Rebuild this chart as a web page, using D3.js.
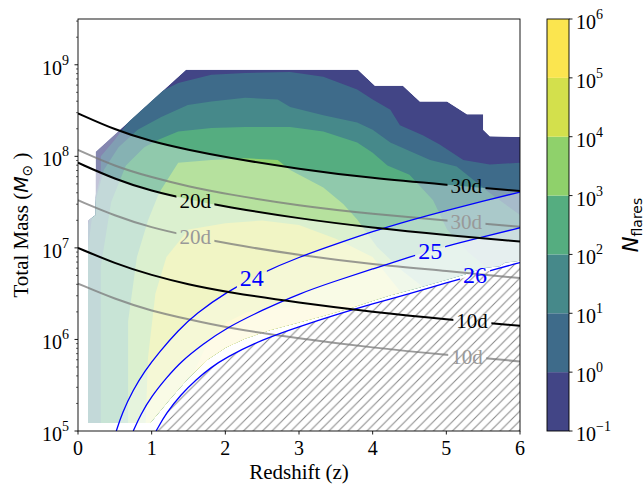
<!DOCTYPE html>
<html>
<head>
<meta charset="utf-8">
<script src="https://cdn.jsdelivr.net/npm/d3@7"></script>
<style>
body { margin: 0; background: #fff; }
svg { display: block; font-family: "Liberation Serif", "Times New Roman", serif; }
</style>
</head>
<body>
<svg id="chart" width="644" height="485"></svg>
<script>
// ---- data (z, log10 M) ----
var levelValues = [1e-1, 1e0, 1e1, 1e2, 1e3, 1e4, 1e5, 1e6];
var levelColors = ['#424586', '#3e6b8a', '#46898a', '#55ad80', '#8fd16b', '#d3e04c', '#fbe54f'];

// outer edge of the filled contours (N >= 0.1)
var outerTop = [[0.136,5.087],[0.136,7.30],[0.24,7.36],[0.24,8.05],[1.466,8.945],[3.80,8.945],[4.03,8.77],[4.41,8.77],
  [4.64,8.60],[5.01,8.60],[5.28,8.46],[5.50,8.46],[5.50,8.29],[5.59,8.22],[6.0,8.21]];
var cutoff = [[6.0,6.86],[5.8,6.84],[5.72,6.80],[5.5,6.78],[5.25,6.71],[4.91,6.63],[4.6,6.56],[4.23,6.48],[3.95,6.41],
  [3.69,6.34],[3.3,6.25],[2.88,6.16],[2.6,6.1],[2.27,6.01],[2.0,5.91],[1.76,5.78],[1.5,5.58],[1.25,5.35],[0.98,5.087]];

// upper edges of the inner levels (N >= 1, 10, 1e2, 1e3, 1e4, 1e5)
var level2 = [[0.136,4.9],[0.136,7.25],[0.31,7.8],[0.31,8.0],[0.50,8.18],[0.91,8.62],[1.36,8.80],[1.81,8.89],[2.27,8.91],
  [2.88,8.92],[3.33,8.87],[3.79,8.73],[4.0,8.62],[4.24,8.51],[4.37,8.34],[4.68,8.23],[4.91,8.13],[5.23,7.96],[5.59,7.91],[6.0,7.93]];
var level3 = [[0.136,4.9],[0.136,7.0],[0.2,7.4],[0.35,7.85],[0.55,8.1],[0.81,8.29],[1.13,8.43],[1.49,8.56],[1.81,8.60],
  [2.27,8.64],[2.71,8.62],[2.88,8.54],[3.33,8.45],[3.79,8.37],[4.0,8.29],[4.24,8.15],[4.47,8.07],[4.78,7.96],[5.14,7.89],[5.59,7.6],[6.0,7.36]];
var level4 = [[0.31,4.9],[0.31,6.8],[0.45,7.5],[0.65,7.9],[0.9,8.1],[1.09,8.18],[1.36,8.27],[1.81,8.31],[2.27,8.32],
  [2.88,8.32],[3.33,8.27],[3.79,8.15],[4.0,8.04],[4.2,7.9],[4.5,7.8],[4.82,7.52],[5.01,7.2],[5.3,6.95],[5.6,6.75],[5.8,6.6]];
var level5 = [[0.68,4.9],[0.68,6.2],[0.8,6.9],[0.95,7.3],[1.1,7.6],[1.36,7.93],[1.81,7.96],[2.27,7.98],[2.71,7.96],
  [2.88,7.85],[3.33,7.66],[3.6,7.48],[3.79,7.31],[4.06,7.01],[4.4,6.75],[4.8,6.5]];
var level6 = [[0.91,4.9],[0.95,5.8],[1.05,6.5],[1.2,6.9],[1.5,7.2],[2.0,7.27],[2.5,7.3],[3.0,7.25],[3.5,7.1],[4.0,6.9],[4.3,6.6],[4.5,6.4]];
var level7 = [[1.4,4.9],[1.55,5.6],[1.75,5.95],[2.0,6.18],[2.3,6.3],[2.8,6.35],[3.3,6.38],[3.8,6.38],[4.3,6.3]];

// constant period curves
var zPeriod = [0, 0.5, 1, 1.5, 2, 3, 4, 5, 6];
var black30 = [8.47, 8.29, 8.16, 8.07, 7.99, 7.86, 7.76, 7.69, 7.62];
var black20 = [7.93, 7.75, 7.62, 7.53, 7.45, 7.32, 7.22, 7.14, 7.07];
var black10 = [7.00, 6.83, 6.70, 6.60, 6.52, 6.40, 6.30, 6.22, 6.15];
var gray30 = [8.07, 7.89, 7.77, 7.67, 7.59, 7.46, 7.37, 7.30, 7.23];
var gray20 = [7.52, 7.35, 7.22, 7.13, 7.05, 6.92, 6.82, 6.75, 6.67];
var gray10 = [6.61, 6.44, 6.31, 6.22, 6.13, 6.01, 5.91, 5.83, 5.76];

// magnitude limit curves
var blue24 = [[0.52,5.0],[0.6,5.2],[0.75,5.45],[0.9,5.65],[1.1,5.86],[1.36,6.1],[1.6,6.28],[2.0,6.51],[2.5,6.73],[3.0,6.9],
  [3.5,7.04],[4.0,7.18],[4.5,7.3],[5.0,7.41],[5.5,7.51],[6.0,7.61]];
var blue25 = [[0.75,5.0],[0.85,5.18],[1.0,5.38],[1.2,5.58],[1.4,5.76],[1.7,5.95],[2.0,6.12],[2.5,6.32],[3.0,6.5],[3.5,6.64],
  [4.0,6.77],[4.5,6.9],[5.0,7.02],[5.5,7.12],[6.0,7.22]];
var blue26 = [[1.06,5.0],[1.2,5.2],[1.4,5.4],[1.6,5.56],[1.8,5.69],[2.0,5.8],[2.5,6.0],[3.0,6.14],[3.5,6.27],[4.0,6.39],
  [4.5,6.5],[5.0,6.62],[5.5,6.73],[6.0,6.84]];

var xTicks = [0, 1, 2, 3, 4, 5, 6];
var yTickExp = [5, 6, 7, 8, 9];
var cbTickExp = [-1, 0, 1, 2, 3, 4, 5, 6];

// ---- scales ----
var svg = d3.select('#chart');
var x = d3.scaleLinear().domain([0, 6]).range([78, 520]);
var y = d3.scaleLog().domain([1e5, Math.pow(10, 9.5)]).range([431, 19]);
var cy = d3.scaleLog().domain([0.1, 1e6]).range([431, 19]);

function px(d) { return [x(d[0]), y(Math.pow(10, d[1]))]; }
var polyLine = d3.line().x(function(d){ return px(d)[0]; }).y(function(d){ return px(d)[1]; });
var smooth = d3.line().x(function(d){ return px(d)[0]; }).y(function(d){ return px(d)[1]; }).curve(d3.curveBasis);

function pairs(vals) { return zPeriod.map(function(z, i){ return [z, vals[i]]; }); }
function interp(pts, z) {
  for (var i = 0; i < pts.length - 1; i++) {
    if (z >= pts[i][0] && z <= pts[i+1][0]) {
      var t = (z - pts[i][0]) / (pts[i+1][0] - pts[i][0]);
      return pts[i][1] + t * (pts[i+1][1] - pts[i][1]);
    }
  }
  return pts[pts.length-1][1];
}
// region below a curve, closed along the bottom
function below(pts) {
  var first = pts[0], last = pts[pts.length-1];
  return smooth(pts) + 'L' + px([last[0], 4.8]).join(',') + 'L' + px([first[0], 4.8]).join(',') + 'Z';
}

var defs = svg.append('defs');
defs.append('clipPath').attr('id', 'plotClip')
  .append('rect').attr('x', 78).attr('y', 19).attr('width', 442).attr('height', 412);
var outerPoly = outerTop.concat(cutoff);
defs.append('clipPath').attr('id', 'fillClip')
  .append('path').attr('d', polyLine(outerPoly) + 'Z');

var hs = 9.5;
defs.append('pattern').attr('id', 'hatch').attr('patternUnits', 'userSpaceOnUse')
  .attr('width', hs).attr('height', hs)
  .append('path')
  .attr('d', 'M-1,1L1,-1M0,' + hs + 'L' + hs + ',0M' + (hs-1) + ',' + (hs+1) + 'L' + (hs+1) + ',' + (hs-1))
  .attr('stroke', '#8a8a8a').attr('stroke-width', 1.05);

var plot = svg.append('g').attr('clip-path', 'url(#plotClip)');

// hatched area under the 26 mag curve
plot.append('path').attr('d', below(blue26)).attr('fill', 'url(#hatch)');

// filled contours
var fillG = plot.append('g').attr('clip-path', 'url(#fillClip)');
fillG.append('path').attr('d', polyLine(outerPoly) + 'Z').attr('fill', levelColors[0]);
[level2, level3, level4, level5, level6, level7].forEach(function(lv, i) {
  var first = lv[0], last = lv[lv.length-1];
  var pts = lv.concat([[last[0], 4.8], [first[0], 4.8]]);
  fillG.append('path').attr('d', polyLine(pts) + 'Z').attr('fill', levelColors[i+1]);
});

// washed out parts
[[pairs(black30), 0.35], [pairs(black20), 0.5], [blue24, 0.3], [blue25, 0.4]].forEach(function(f) {
  fillG.append('path').attr('d', below(f[0])).attr('fill', '#fff').attr('fill-opacity', f[1]);
});

// ---- lines with inline labels ----
var lines = [
  { pts: pairs(gray30), text: '30d', z: 5.27, stroke: '#7a7a7a', op: 0.75, w: 2, tc: '#999', fs: 21 },
  { pts: pairs(gray20), text: '20d', z: 1.59, stroke: '#7a7a7a', op: 0.75, w: 2, tc: '#999', fs: 21 },
  { pts: pairs(gray10), text: '10d', z: 5.28, stroke: '#7a7a7a', op: 0.75, w: 2, tc: '#999', fs: 21 },
  { pts: blue24, text: '24', z: 2.36, stroke: '#0000ff', op: 1, w: 1.3, tc: '#0000ff', fs: 24 },
  { pts: blue25, text: '25', z: 4.78, stroke: '#0000ff', op: 1, w: 1.3, tc: '#0000ff', fs: 24 },
  { pts: blue26, text: '26', z: 5.39, stroke: '#0000ff', op: 1, w: 1.3, tc: '#0000ff', fs: 24 },
  { pts: pairs(black30), text: '30d', z: 5.27, stroke: '#000', op: 1, w: 2, tc: '#000', fs: 21 },
  { pts: pairs(black20), text: '20d', z: 1.59, stroke: '#000', op: 1, w: 2, tc: '#000', fs: 21 },
  { pts: pairs(black10), text: '10d', z: 5.35, stroke: '#000', op: 1, w: 2, tc: '#000', fs: 21 }
];
var lineG = plot.append('g');
var labelG = svg.append('g');
lines.forEach(function(L, i) {
  var lx = x(L.z), ly = y(Math.pow(10, interp(L.pts, L.z)));
  var t = labelG.append('text').attr('x', lx).attr('y', ly + L.fs * 0.33)
    .attr('text-anchor', 'middle').attr('font-size', L.fs).attr('fill', L.tc).text(L.text);
  var bb = t.node().getBBox();
  var m = defs.append('mask').attr('id', 'gap' + i).attr('maskUnits', 'userSpaceOnUse')
    .attr('x', 0).attr('y', 0).attr('width', 644).attr('height', 485);
  m.append('rect').attr('width', 644).attr('height', 485).attr('fill', '#fff');
  m.append('rect').attr('x', bb.x - 3).attr('y', bb.y + 1).attr('width', bb.width + 6).attr('height', bb.height - 2).attr('fill', '#000');
  lineG.append('path').attr('d', smooth(L.pts)).attr('fill', 'none')
    .attr('stroke', L.stroke).attr('stroke-opacity', L.op).attr('stroke-width', L.w)
    .attr('mask', 'url(#gap' + i + ')');
});

// ---- axes ----
var axG = svg.append('g');
axG.append('rect').attr('x', 78).attr('y', 19).attr('width', 442).attr('height', 412)
  .attr('fill', 'none').attr('stroke', '#000').attr('stroke-width', 0.9);

xTicks.forEach(function(v) {
  axG.append('line').attr('x1', x(v)).attr('x2', x(v)).attr('y1', 431).attr('y2', 434.5).attr('stroke', '#000').attr('stroke-width', 0.9);
  axG.append('text').attr('x', x(v)).attr('y', 455).attr('text-anchor', 'middle').attr('font-size', 20).text(v);
});

function supLabel(sel, xp, yp, e, anchor) {
  var t = sel.append('text').attr('x', xp).attr('y', yp).attr('text-anchor', anchor).attr('font-size', 20);
  t.append('tspan').text('10');
  t.append('tspan').attr('dy', -10).attr('font-size', 14).text(e < 0 ? '\u2212' + (-e) : e);
}

yTickExp.forEach(function(e) {
  var yy = y(Math.pow(10, e));
  axG.append('line').attr('x1', 74.5).attr('x2', 78).attr('y1', yy).attr('y2', yy).attr('stroke', '#000').attr('stroke-width', 0.9);
  supLabel(axG, 69, yy + 10, e, 'end');
});
// minor log ticks
y.ticks(40).forEach(function(v) {
  var e = Math.log10(v);
  if (Math.abs(e - Math.round(e)) < 1e-6) return;
  var yy = y(v);
  axG.append('line').attr('x1', 76).attr('x2', 78).attr('y1', yy).attr('y2', yy).attr('stroke', '#000').attr('stroke-width', 0.6);
});

axG.append('text').attr('x', 299).attr('y', 479).attr('text-anchor', 'middle').attr('font-size', 21).text('Redshift (z)');
var yl = axG.append('text').attr('transform', 'translate(28,225) rotate(-90)').attr('text-anchor', 'middle').attr('font-size', 21);
yl.append('tspan').text('Total Mass (');
yl.append('tspan').style('font-family', 'DejaVu Sans').style('font-style', 'italic').attr('font-size', 19).text('M');
yl.append('tspan').style('font-family', 'DejaVu Sans').attr('font-size', 14).attr('dy', 4).text('\u2299');
yl.append('tspan').attr('dy', -4).text(' )');

// ---- colorbar ----
var cb = svg.append('g');
for (var k = 0; k < levelColors.length; k++) {
  cb.append('rect').attr('x', 547).attr('width', 22)
    .attr('y', cy(levelValues[k+1])).attr('height', cy(levelValues[k]) - cy(levelValues[k+1]))
    .attr('fill', levelColors[k]);
}
cb.append('rect').attr('x', 547).attr('y', 19).attr('width', 22).attr('height', 412)
  .attr('fill', 'none').attr('stroke', '#000').attr('stroke-width', 0.9);
cbTickExp.forEach(function(e) {
  var yy = cy(Math.pow(10, e));
  cb.append('line').attr('x1', 569).attr('x2', 572.5).attr('y1', yy).attr('y2', yy).attr('stroke', '#000').attr('stroke-width', 0.9);
  supLabel(cb, 576, yy + 10, e, 'start');
});
var cl = cb.append('text').attr('transform', 'translate(638,225) rotate(-90)').attr('text-anchor', 'middle')
  .style('font-family', 'DejaVu Sans').attr('font-size', 21);
cl.append('tspan').style('font-style', 'italic').text('N');
cl.append('tspan').attr('font-size', 14).attr('dy', 4).text('flares');
</script>
</body>
</html>
